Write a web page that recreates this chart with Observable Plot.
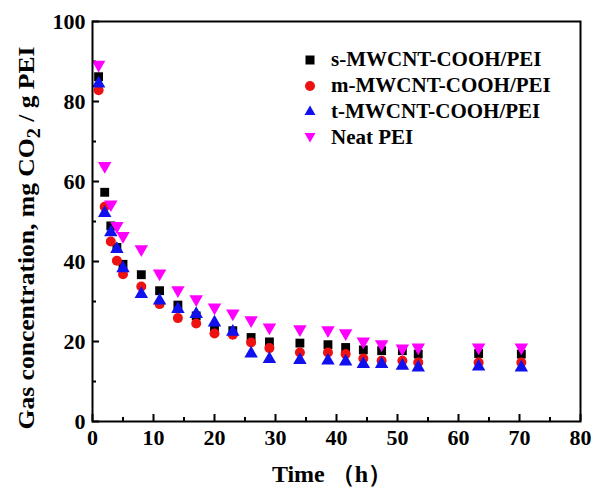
<!DOCTYPE html>
<html>
<head>
<meta charset="utf-8">
<script src="https://cdn.jsdelivr.net/npm/d3@7"></script>
<script src="https://cdn.jsdelivr.net/npm/@observablehq/plot@0.6"></script>
<style>
  html, body { margin: 0; padding: 0; background: #fff; }
  #wrap { position: relative; width: 593px; height: 489px; }
  #legend { position: absolute; left: 300px; top: 47px; font-family: "Liberation Serif", "Times New Roman", serif; font-weight: bold; font-size: 21px; color: #000; }
  #legend .row { display: flex; align-items: center; height: 25.8px; }
  #legend svg { width: 20px; height: 20px; margin-right: 11px; }
</style>
</head>
<body>
<div id="wrap"></div>
<script>
// Time (h)
const times = [1, 2, 3, 4, 5, 8, 11, 14, 17, 20, 23, 26, 29, 34, 38.6, 41.5, 44.4, 47.4, 50.8, 53.4, 63.3, 70.3];
// Gas concentration, mg CO2 / g PEI
const sSeries = [86.2, 57.3, 48.9, 43.5, 39.3, 36.7, 32.7, 29.1, 26.4, 23.1, 22.7, 21.0, 19.9, 19.6, 19.2, 18.5, 17.9, 17.7, 17.7, 16.85, 17.0, 16.85];
const mSeries = [82.8, 53.7, 45.0, 40.2, 36.8, 33.75, 29.35, 25.85, 24.5, 22.0, 21.7, 19.75, 18.35, 17.25, 17.25, 16.85, 15.75, 15.2, 15.2, 14.75, 14.75, 14.75];
const tSeries = [84.5, 52.1, 47.3, 43.1, 38.3, 31.85, 30.2, 28.1, 26.85, 24.75, 22.4, 17.0, 15.6, 15.35, 15.2, 15.0, 14.35, 14.35, 13.9, 13.5, 13.7, 13.5];
const neatSeries = [89.2, 63.9, 54.3, 48.9, 46.4, 43.1, 37.0, 32.85, 30.6, 28.5, 27.0, 25.35, 23.5, 23.1, 22.85, 22.1, 20.0, 19.35, 18.25, 18.5, 18.5, 18.5];

const seriesNames = ["s-MWCNT-COOH/PEI", "m-MWCNT-COOH/PEI", "t-MWCNT-COOH/PEI", "Neat PEI"];
const seriesColors = ["#000000", "#ee1111", "#1111ee", "#ff00ff"];
const seriesSymbols = ["square", "circle", "triangle", "triangle"];
const seriesRotate = [0, 0, 0, 180];
const seriesValues = [sSeries, mSeries, tSeries, neatSeries];

const xMajor = [0, 10, 20, 30, 40, 50, 60, 70, 80];
const xMinor = [5, 15, 25, 35, 45, 55, 65, 75];
const yMajor = [0, 20, 40, 60, 80, 100];
const yMinor = [10, 30, 50, 70, 90];

const W = 593, H = 489, mL = 92, mR = 13, mT = 21, mB = 68;
const frameW = W - mL - mR, frameH = H - mT - mB;

const dotMarks = seriesValues.map((vals, i) =>
  Plot.dot(times.map((t, j) => ({t, v: vals[j]})), {
    x: "t", y: "v", symbol: () => seriesSymbols[i], fill: seriesColors[i],
    r: 5, rotate: seriesRotate[i], stroke: "none"
  })
);

const chart = Plot.plot({
  width: W, height: H,
  marginLeft: mL, marginRight: mR, marginTop: mT, marginBottom: mB,
  style: { fontFamily: "'Liberation Serif', 'Times New Roman', serif", fontWeight: "bold", fontSize: "22px", color: "#000", background: "#fff" },
  x: { domain: [0, 80] },
  y: { domain: [0, 100] },
  symbol: { type: "identity" },
  marks: [
    Plot.axisX({ ticks: xMajor, tickSize: 0, tickPadding: 8, label: null }),
    Plot.axisY({ ticks: yMajor, tickSize: 0, tickPadding: 7, label: null }),
    Plot.ruleX(xMajor, { x: d => d, insetTop: frameH - 7, strokeWidth: 2 }),
    Plot.ruleX(xMinor, { x: d => d, insetTop: frameH - 4, strokeWidth: 2 }),
    Plot.ruleY(yMajor, { y: d => d, insetRight: frameW - 7, strokeWidth: 2 }),
    Plot.ruleY(yMinor, { y: d => d, insetRight: frameW - 4, strokeWidth: 2 }),
    ...dotMarks,
    Plot.frame({ stroke: "#000", strokeWidth: 2 })
  ]
});

const svg = d3.select(chart);
// axis titles
svg.append("text")
  .attr("x", 332).attr("y", 482)
  .attr("text-anchor", "middle")
  .style("font-family", "'Liberation Serif', 'Times New Roman', serif")
  .style("font-weight", "bold").style("font-size", "24px")
  .text("Time （h）");
const yt = svg.append("text")
  .attr("transform", "translate(34,238) rotate(-90)")
  .attr("text-anchor", "middle")
  .attr("textLength", 383)
  .attr("lengthAdjust", "spacingAndGlyphs")
  .style("font-family", "'Liberation Serif', 'Times New Roman', serif")
  .style("font-weight", "bold").style("font-size", "24px");
yt.append("tspan").text("Gas concentration, mg CO");
yt.append("tspan").attr("dy", 6).style("font-size", "19px").text("2");
yt.append("tspan").attr("dy", -6).text(" / g PEI");

const wrap = document.getElementById("wrap");
wrap.appendChild(chart);

// legend
const leg = document.createElement("div");
leg.id = "legend";
const sym = {
  square: '<rect x="5.5" y="5.5" width="9" height="9"/>',
  circle: '<circle cx="10" cy="10" r="5"/>',
  triangle: '<path d="M10 4.5 L15.5 14 L4.5 14 Z"/>',
  down: '<path d="M10 15.5 L15.5 6 L4.5 6 Z"/>'
};
seriesNames.forEach((name, i) => {
  const row = document.createElement("div");
  row.className = "row";
  const key = seriesRotate[i] === 180 ? "down" : seriesSymbols[i];
  row.innerHTML = `<svg viewBox="0 0 20 20" fill="${seriesColors[i]}">${sym[key]}</svg><span>${name}</span>`;
  leg.appendChild(row);
});
wrap.appendChild(leg);
</script>
</body>
</html>
